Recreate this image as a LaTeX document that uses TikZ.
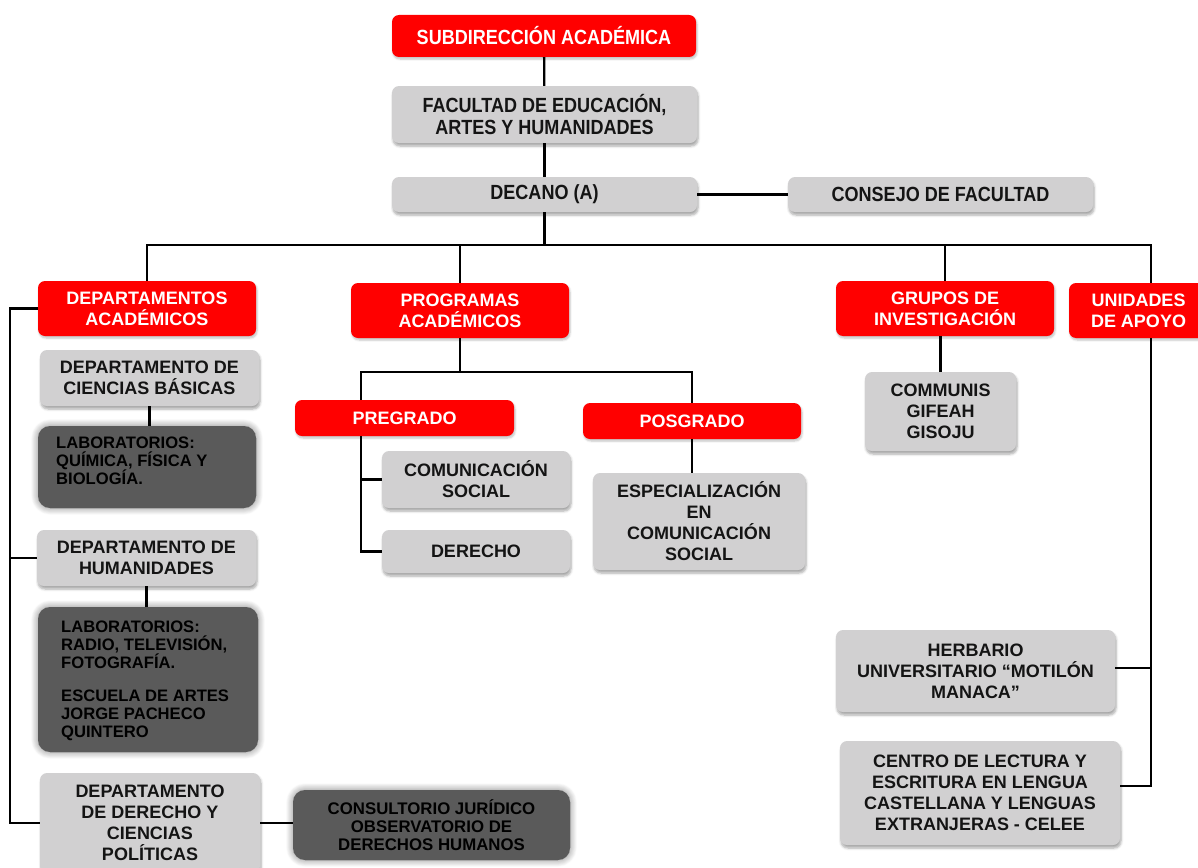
\documentclass[tikz,border=0pt]{standalone}
\usepackage{fontspec}
\setmainfont{Liberation Sans}
\newfontfamily\narrowfont[FakeStretch=0.88]{Liberation Sans}
\usetikzlibrary{shadows.blur,calc}
\definecolor{ured}{HTML}{FF0000}
\definecolor{ugray}{HTML}{D1D0D1}
\definecolor{udark}{HTML}{5A5A5A}
\definecolor{utext}{HTML}{141414}
\begin{document}
\begin{tikzpicture}[x=1pt,y=-1pt,
  box/.style={rounded corners=7pt, inner sep=0pt, align=center, anchor=center,
    font=\bfseries\fontsize{18}{21}\selectfont},
  redbox/.style={box, fill=ured, text=white,
    blur shadow={shadow xshift=1pt, shadow yshift=-2pt, shadow opacity=25, shadow blur steps=5, shadow blur radius=2pt}},
  graybox/.style={box, fill=ugray, text=utext,
    blur shadow={shadow xshift=1pt, shadow yshift=-3pt, shadow opacity=35, shadow blur steps=5, shadow blur radius=2.5pt}},
  darkbox/.style={box, fill=udark, rounded corners=12pt,
    blur shadow={shadow xshift=0pt, shadow yshift=0pt, shadow opacity=50, shadow blur steps=10, shadow blur radius=7pt}},
  darktext/.style={inner sep=0pt, align=left, anchor=north west, text=black,
    font=\bfseries\fontsize{16.6}{18}\selectfont},
  topfont/.style={font=\narrowfont\bfseries\fontsize{20.5}{22}\selectfont},
  link/.style={draw=black, line width=2.3pt}
]
\useasboundingbox (0,0) rectangle (1198,867);

% top chain
\node[redbox, topfont, minimum width=304, minimum height=42] (sub) at (544,36) {SUBDIRECCIÓN ACADÉMICA};
\node[graybox, topfont, minimum width=305, minimum height=57] (fac) at (544.5,114.5) {FACULTAD DE EDUCACIÓN,\\ARTES Y HUMANIDADES};
\node[graybox, topfont, minimum width=305, minimum height=35] (dec) at (544.5,194.5) {DECANO (A)};
\node[graybox, topfont, minimum width=305, minimum height=35] (con) at (940.5,194.5) {CONSEJO DE FACULTAD};

% second level
\node[redbox, minimum width=218, minimum height=55] (depA) at (147,308.5) {DEPARTAMENTOS\\ACADÉMICOS};
\node[redbox, minimum width=218, minimum height=55] (prog) at (460,310.5) {PROGRAMAS\\ACADÉMICOS};
\node[redbox, minimum width=218, minimum height=55] (grup) at (945,308.5) {GRUPOS DE\\INVESTIGACIÓN};
\node[redbox, minimum width=139, minimum height=55] (unid) at (1138.5,310.5) {UNIDADES\\DE APOYO};

% departments
\node[graybox, minimum width=219, minimum height=56] (cb) at (149.5,378) {DEPARTAMENTO DE\\CIENCIAS BÁSICAS};
\node[darkbox, minimum width=218, minimum height=82] (lab1) at (147,467) {};
\node[darktext] (lab1t) at (56,437) {LABORATORIOS:\\QUÍMICA, FÍSICA Y\\BIOLOGÍA.};
\node[graybox, minimum width=219, minimum height=56] (hum) at (146.5,558) {DEPARTAMENTO DE\\HUMANIDADES};
\node[darkbox, minimum width=220, minimum height=145] (lab2) at (148,679.5) {};
\node[darktext] (lab2t) at (61,621) {LABORATORIOS:\\RADIO, TELEVISIÓN,\\FOTOGRAFÍA.\\[15pt]ESCUELA DE ARTES\\JORGE PACHECO\\QUINTERO};
\node[graybox, minimum width=220, minimum height=100] (der) at (150,823) {DEPARTAMENTO\\DE DERECHO Y\\CIENCIAS\\POLÍTICAS};
\node[darkbox, minimum width=277, minimum height=70, text=black, font=\bfseries\fontsize{16.8}{18}\selectfont] (cons) at (431.5,825) {CONSULTORIO JURÍDICO\\OBSERVATORIO DE\\DERECHOS HUMANOS};

% programs
\node[redbox, minimum width=219, minimum height=36] (preg) at (404.5,418) {PREGRADO};
\node[redbox, minimum width=218, minimum height=36] (posg) at (692,421) {POSGRADO};
\node[graybox, minimum width=188, minimum height=57] (com) at (476,479.5) {COMUNICACIÓN\\SOCIAL};
\node[graybox, minimum width=188, minimum height=43] (dere) at (476,551.5) {DERECHO};
\node[graybox, minimum width=212, minimum height=97] (esp) at (699,521.5) {ESPECIALIZACIÓN\\EN\\COMUNICACIÓN\\SOCIAL};

% research groups and support units
\node[graybox, minimum width=151, minimum height=79] (gis) at (940.5,411.5) {COMMUNIS\\GIFEAH\\GISOJU};
\node[graybox, minimum width=279, minimum height=82] (herb) at (975.5,671) {HERBARIO\\UNIVERSITARIO “MOTILÓN\\MANACA”};
\node[graybox, minimum width=280, minimum height=104] (cel) at (980,793) {CENTRO DE LECTURA Y\\ESCRITURA EN LENGUA\\CASTELLANA Y LENGUAS\\EXTRANJERAS - CELEE};

% helper coordinates
\coordinate (bus) at (0,245);
\coordinate (ls) at (10,0);
\coordinate (pbar) at (0,372);
\coordinate (pg) at (361,0);
\coordinate (uA) at ($(unid.north)+(12.5,0)$);
\coordinate (uB) at ($(unid.south)+(12.5,0)$);
\coordinate (herbc) at ($(herb.east)+(0,-3)$);
\coordinate (celc) at ($(cel.east)+(0,-7)$);

% connectors
\draw[link] (sub) -- (fac);
\draw[link] (fac) -- (dec);
\draw[link] (dec) -- (con);
\draw[link] (dec.south) -- (dec.south |- bus);
\draw[link, line cap=rect] (depA.north |- bus) -- (uA |- bus);
\draw[link] (depA.north |- bus) -- (depA.north);
\draw[link] (prog.north |- bus) -- (prog.north);
\draw[link] (grup.north |- bus) -- (grup.north);
\draw[link] (uA |- bus) -- (uA);

\draw[link, line join=miter] (depA.west) -- (depA.west -| ls) -- (der.west -| ls) -- (der.west);
\draw[link] (hum.west -| ls) -- (hum.west);
\draw[link] (cb.south) -- (cb.south |- lab1.north);
\draw[link] (hum.south) -- (hum.south |- lab2.north);
\draw[link] (der.east) -- (der.east -| cons.west);

\draw[link] (prog.south) -- (prog.south |- pbar);
\draw[link, line join=miter] (pg |- preg.north) -- (pg |- pbar) -- (posg.north |- pbar) -- (posg.north);
\draw[link, line join=miter] (pg |- preg.south) -- (pg |- dere.west) -- (dere.west);
\draw[link] (pg |- com.west) -- (com.west);
\draw[link] (posg.south) -- (posg.south |- esp.north);

\draw[link] (gis.north |- grup.south) -- (gis.north);
\draw[link, line join=miter] (uB) -- (uB |- celc) -- (celc);
\draw[link] (uB |- herbc) -- (herbc);
\end{tikzpicture}
\end{document}
